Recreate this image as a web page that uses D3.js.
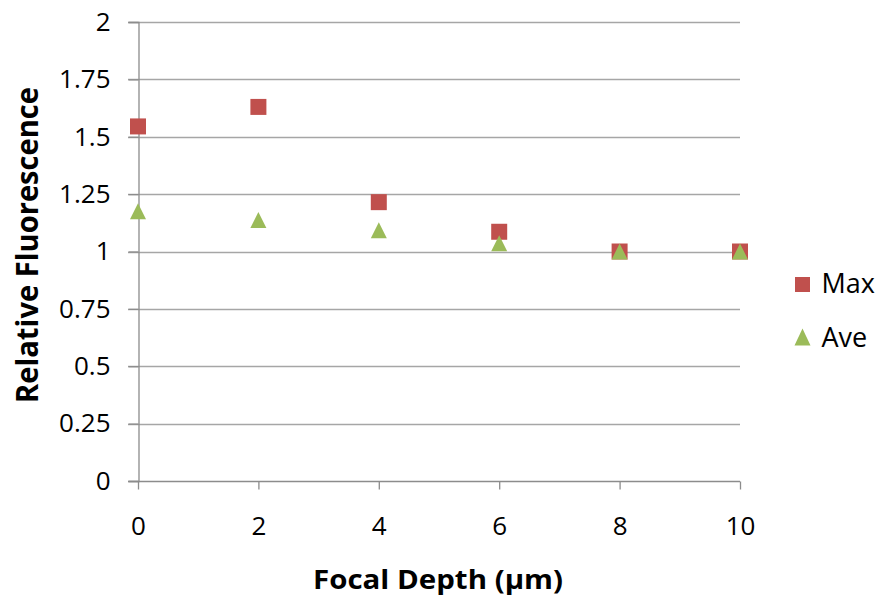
<!DOCTYPE html>
<html>
<head>
<meta charset="utf-8">
<script src="https://cdn.jsdelivr.net/npm/d3@7"></script>
<style>
  html, body { margin: 0; padding: 0; background: #fff; }
  svg { display: block; font-family: "Open Sans", sans-serif; }
</style>
</head>
<body>
<svg id="chart" width="884" height="598"></svg>
<script>
// Relative fluorescence versus focal depth
const depths = [0, 2, 4, 6, 8, 10];
const maxValues = [1.545, 1.63, 1.215, 1.086, 1.0, 1.0];
const aveValues = [1.175, 1.137, 1.093, 1.036, 1.0, 1.0];
const xTicks = [0, 2, 4, 6, 8, 10];
const yTicks = [0, 0.25, 0.5, 0.75, 1, 1.25, 1.5, 1.75, 2];
const seriesNames = ["Max", "Ave"];
const seriesColors = ["#C0504D", "#9BBB59"];

const svg = d3.select("#chart");
const plot = { left: 138, right: 740, top: 22, bottom: 481 };
const FONT = "'Open Sans', sans-serif";

const x = d3.scaleLinear().domain([0, 10]).range([plot.left, plot.right]);
const y = d3.scaleLinear().domain([0, 2]).range([plot.bottom, plot.top]);

// marker shapes: square and upright triangle, both centred on their box
const squarePath = s => `M${-s / 2},${-s / 2}h${s}v${s}h${-s}Z`;
const trianglePath = (w, h) => `M0,${-h / 2}L${w / 2},${h / 2}L${-w / 2},${h / 2}Z`;

// horizontal gridlines
svg.append("g")
  .selectAll("line")
  .data(yTicks.filter(d => d > 0))
  .join("line")
  .attr("x1", plot.left - 10).attr("x2", plot.right)
  .attr("y1", d => Math.round(y(d)) + 0.5).attr("y2", d => Math.round(y(d)) + 0.5)
  .attr("stroke", "#a6a6a6").attr("stroke-width", 1.3);

// y axis
const yAxis = svg.append("g")
  .attr("transform", `translate(${plot.left + 0.5},0)`)
  .call(d3.axisLeft(y).tickValues(yTicks).tickSize(10).tickPadding(18)
    .tickFormat(d => String(d)));
yAxis.select(".domain").attr("stroke", "#8c8c8c").attr("stroke-width", 1.3);
yAxis.selectAll(".tick line").attr("stroke", "#8c8c8c").attr("stroke-width", 1.3);
yAxis.selectAll("text").attr("font-size", 26).attr("fill", "#000")
  .style("font-family", FONT);

// x axis
const xAxis = svg.append("g")
  .attr("transform", `translate(0,${Math.round(y(0)) + 0.5})`)
  .call(d3.axisBottom(x).tickValues(xTicks).tickSize(8).tickPadding(27)
    .tickFormat(d => String(d)));
xAxis.select(".domain").attr("stroke", "#8c8c8c").attr("stroke-width", 1.3)
  .attr("d", `M${plot.left - 10},0H${plot.right}`);
xAxis.selectAll(".tick line").attr("stroke", "#8c8c8c").attr("stroke-width", 1.3);
xAxis.selectAll("text").attr("font-size", 26).attr("fill", "#000")
  .style("font-family", FONT);

// markers
svg.append("g").selectAll("path")
  .data(depths.map((d, i) => ({ x: d, v: maxValues[i] })))
  .join("path")
  .attr("d", squarePath(16))
  .attr("transform", d => `translate(${x(d.x)},${y(d.v)})`)
  .attr("fill", seriesColors[0]);

svg.append("g").selectAll("path")
  .data(depths.map((d, i) => ({ x: d, v: aveValues[i] })))
  .join("path")
  .attr("d", trianglePath(16, 16))
  .attr("transform", d => `translate(${x(d.x)},${y(d.v)})`)
  .attr("fill", seriesColors[1]);

// legend
const legend = svg.append("g").attr("transform", "translate(802.5,0)");
legend.append("path").attr("d", squarePath(15))
  .attr("transform", "translate(0,284.5)").attr("fill", seriesColors[0]);
legend.append("path").attr("d", trianglePath(16, 17))
  .attr("transform", "translate(0,337)").attr("fill", seriesColors[1]);
legend.selectAll("text").data(seriesNames).join("text")
  .attr("x", 19).attr("y", (d, i) => 293 + i * 54)
  .attr("font-size", 27).attr("fill", "#000")
  .text(d => d);

// axis titles
svg.append("text")
  .attr("x", 438).attr("y", 589)
  .attr("text-anchor", "middle").attr("font-size", 27).attr("font-weight", "bold")
  .attr("textLength", 250).attr("lengthAdjust", "spacingAndGlyphs")
  .text("Focal Depth (µm)");

svg.append("text")
  .attr("transform", "translate(38,245) rotate(-90) scale(1,1.2)")
  .attr("x", -158)
  .attr("font-size", 26).attr("font-weight", "bold")
  .attr("textLength", 316).attr("lengthAdjust", "spacingAndGlyphs")
  .text("Relative Fluorescence");
</script>
</body>
</html>
